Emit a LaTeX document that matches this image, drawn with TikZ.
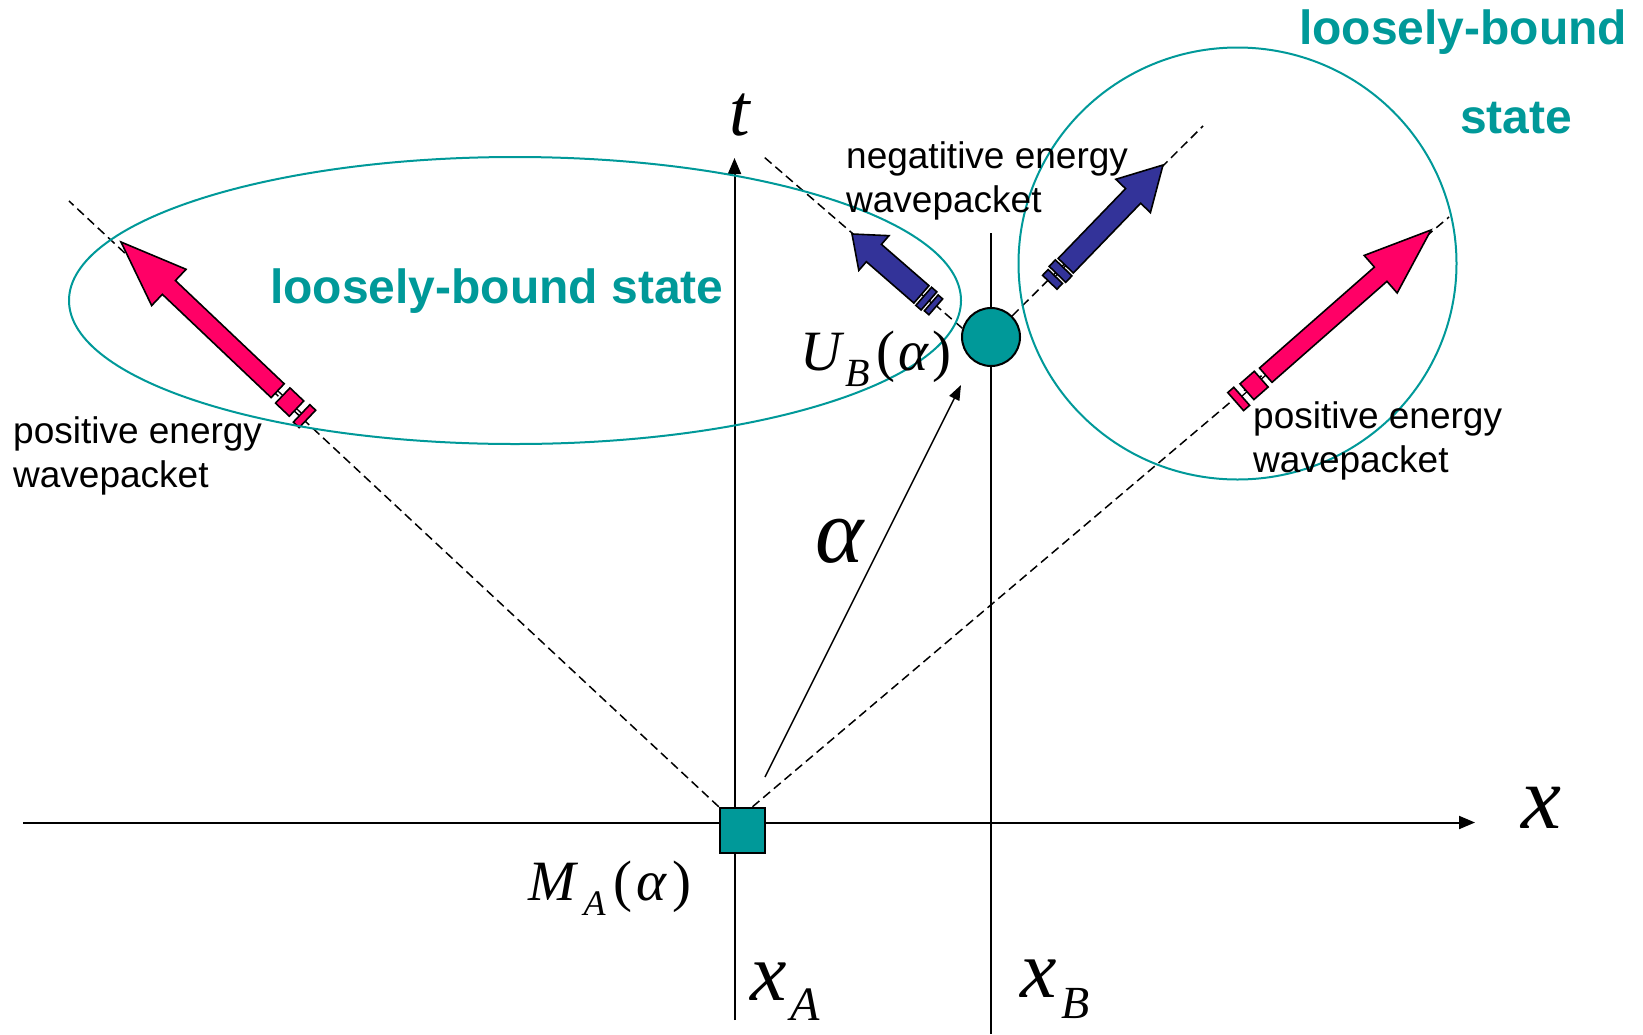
\documentclass[tikz,border=0pt]{standalone}
\usepackage{fontspec}
\setmainfont{Liberation Serif}
\newfontfamily\arialf{Liberation Sans}
\usetikzlibrary{arrows.meta,calc}
\definecolor{tealc}{RGB}{0,153,153}
\definecolor{pinkc}{RGB}{255,0,102}
\definecolor{bluec}{RGB}{51,51,153}
\tikzset{
  axisline/.style={line width=2pt, -{Triangle[length=16pt,width=13pt]}},
  plainline/.style={line width=2pt},
  guide/.style={line width=1.5pt, dash pattern=on 9pt off 5pt},
  bound/.style={draw=tealc, line width=2pt},
  lbl/.style={font=\arialf\fontsize{37}{44}\selectfont, inner sep=0pt, anchor=base west},
  boundlbl/.style={font=\arialf\bfseries\fontsize{48}{56}\selectfont, text=tealc, inner sep=0pt, anchor=base west},
  mathlbl/.style={inner sep=0pt, anchor=base west},
  packet/.style={draw=black, line width=1.6pt, line join=miter},
  tailline/.style={line width=1.3pt},
}
\begin{document}
\begin{tikzpicture}[x=1pt,y=-1pt]
\useasboundingbox (0,0) rectangle (1643,1034);
\fill[white] (0,0) rectangle (1643,1034);

% axes and vertical line at x_B
\coordinate (xl0) at (23,822.5);
\coordinate (xl1) at (1475,822.5);
\coordinate (tl0) at (734.5,1020);
\coordinate (tl1) at (734.5,158);
\coordinate (xb0) at (991,233);
\coordinate (xb1) at (991,1034);
\draw[axisline] (xl0) -- (xl1);
\draw[axisline] (tl0) -- (tl1);
\draw[plainline] (xb0) -- (xb1);

% sources
\node[draw, fill=tealc, line width=2.5pt, minimum size=45pt, inner sep=0pt] (MA) at (742.5,830.5) {};
\node[circle, draw, fill=tealc, line width=2pt, minimum size=58pt, inner sep=0pt] (UB) at (991,337) {};

% light-cone guides
\coordinate (gl) at (69,201);
\coordinate (gr) at (1449,217);
\coordinate (gul) at (764,157);
\coordinate (gur) at (1203,126);
\draw[guide] (MA.north west) -- (gl);
\draw[guide] ([xshift=10pt]MA.north) -- (gr);
\draw[guide] (UB.163) -- (gul);
\draw[guide] (UB) -- (gur);

% alpha arrow
\coordinate (a0) at (765,777);
\coordinate (a1) at (961,385);
\draw[line width=1.5pt, -{Triangle[length=15pt,width=11pt]}] (a0) -- (a1);

% left pink wavepacket
\begin{scope}[shift={(121,242)}, rotate=136.5]
  \draw[tailline] (-216,0) -- (-249,0);
  \filldraw[packet, fill=pinkc] (0,0) -- (-66,25) -- (-66,9.5) -- (-216,9.5) -- (-216,-9.5) -- (-66,-9.5) -- (-66,-25) -- cycle;
  \filldraw[packet, fill=pinkc] (-223,-10.5) rectangle (-242,10.5);
  \filldraw[packet, fill=pinkc] (-249,-12) rectangle (-257,12);
\end{scope}

% right pink wavepacket
\begin{scope}[shift={(1431,230)}, rotate=41.3]
  \draw[tailline] (-220,0) -- (-252,0);
  \filldraw[packet, fill=pinkc] (0,0) -- (-67,25) -- (-67,9.5) -- (-220,9.5) -- (-220,-9.5) -- (-67,-9.5) -- (-67,-25) -- cycle;
  \filldraw[packet, fill=pinkc] (-226,-10.5) rectangle (-245,10.5);
  \filldraw[packet, fill=pinkc] (-252,-12) rectangle (-260,12);
\end{scope}

% left blue wavepacket
\begin{scope}[shift={(852,234)}, rotate=139]
  \draw[tailline] (-92,0) -- (-105,0);
  \filldraw[packet, fill=bluec] (0,0) -- (-29,23) -- (-29,11.5) -- (-92,11.5) -- (-92,-11.5) -- (-29,-11.5) -- (-29,-23) -- cycle;
  \filldraw[packet, fill=bluec] (-95,-12) rectangle (-102,12);
  \filldraw[packet, fill=bluec] (-105,-10.5) rectangle (-111,10.5);
\end{scope}

% right blue wavepacket
\begin{scope}[shift={(1163,165)}, rotate=46]
  \draw[tailline] (-140,0) -- (-155,0);
  \filldraw[packet, fill=bluec] (0,0) -- (-43,24) -- (-43,10.5) -- (-140,10.5) -- (-140,-10.5) -- (-43,-10.5) -- (-43,-24) -- cycle;
  \filldraw[packet, fill=bluec] (-143,-11.5) rectangle (-152,11.5);
  \filldraw[packet, fill=bluec] (-155,-10) rectangle (-163,10);
\end{scope}

% loosely-bound regions
\draw[bound] (515,300.5) ellipse [x radius=446pt, y radius=143.5pt];
\draw[bound] (1237.5,263.5) ellipse [x radius=219pt, y radius=216pt];

% texts
\node[lbl] (pl1) at (13,443) {positive energy};
\node[lbl] (pl2) at (13,487) {wavepacket};
\node[lbl] (pr1) at (1253,428) {positive energy};
\node[lbl] (pr2) at (1253,472) {wavepacket};
\node[lbl] (ng1) at (846,168) {negatitive energy};
\node[lbl] (ng2) at (846,212) {wavepacket};
\node[boundlbl] (lb) at (270,303) {loosely-bound state};
\node[boundlbl] (rb1) at (1299,44) {loosely-bound};
\node[boundlbl] (rb2) at (1460,133) {state};

\node[mathlbl] (tlab) at (729,135) {\fontsize{74}{74}\selectfont\itshape t};
\node[mathlbl] (xlab) at (1521,828) {\fontsize{90}{90}\selectfont\itshape x};
\node[mathlbl] (alab) at (815,562) {\fontsize{92}{92}\selectfont\itshape α};
\node[mathlbl] (xalab) at (750,1000) {\fontsize{82}{82}\selectfont\itshape x\kern4pt\raisebox{-20pt}{\fontsize{48}{48}\selectfont A}};
\node[mathlbl] (xblab) at (1020,997) {\fontsize{82}{82}\selectfont\itshape x\kern5pt\raisebox{-21pt}{\fontsize{46}{46}\selectfont B}};
\node[mathlbl] (malab) at (528,900) {\fontsize{57}{57}\selectfont\itshape M\kern8pt\raisebox{-15pt}{\fontsize{36}{36}\selectfont A}\kern8pt\upshape(\kern4pt\itshape α\kern6pt\upshape)};
\node[mathlbl] (ublab) at (800,370) {\fontsize{57}{57}\selectfont\itshape U\kern4pt\raisebox{-16pt}{\fontsize{40}{40}\selectfont B}\kern7pt\upshape(\kern3pt\itshape α\kern4pt\upshape)};
\end{tikzpicture}
\end{document}
